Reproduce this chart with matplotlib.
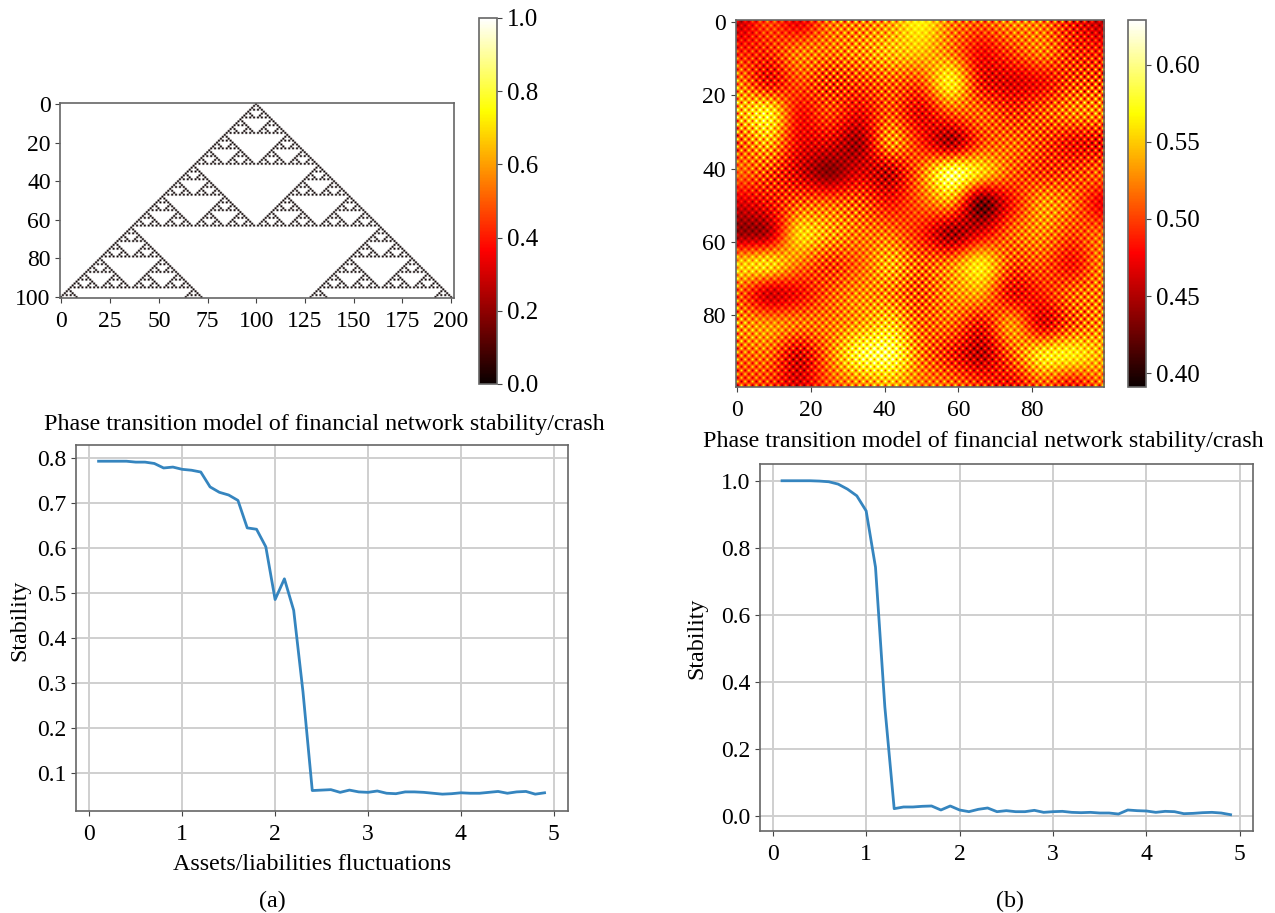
import matplotlib
matplotlib.use("Agg")
import matplotlib.pyplot as plt
import numpy as np

W, H = 1275, 913

# rule 90 automaton shown top left
ca_rows = 101
ca_cols = 202
ca_start = 100

# stability curves
x_vals = [round(0.1 * i, 1) for i in range(1, 50)]
stab_a = [0.792, 0.792, 0.792, 0.792, 0.790, 0.790, 0.787, 0.777, 0.779, 0.774,
          0.772, 0.768, 0.735, 0.723, 0.717, 0.705, 0.644, 0.641, 0.602, 0.485,
          0.531, 0.461, 0.280, 0.061, 0.062, 0.063, 0.057, 0.062, 0.058, 0.057,
          0.060, 0.055, 0.054, 0.058, 0.058, 0.057, 0.055, 0.053, 0.054, 0.056,
          0.055, 0.055, 0.057, 0.059, 0.055, 0.058, 0.059, 0.053, 0.056]
stab_b = [1.000, 1.000, 1.000, 1.000, 0.999, 0.997, 0.990, 0.975, 0.955, 0.910,
          0.742, 0.325, 0.021, 0.026, 0.026, 0.028, 0.029, 0.017, 0.029, 0.017,
          0.012, 0.019, 0.023, 0.012, 0.015, 0.012, 0.012, 0.016, 0.010, 0.012,
          0.013, 0.010, 0.009, 0.010, 0.008, 0.008, 0.005, 0.017, 0.015, 0.014,
          0.010, 0.013, 0.012, 0.006, 0.007, 0.009, 0.010, 0.008, 0.003]

# heatmap: local level and strength of the checker pattern, estimated every ~8 cells
heat_level = [
    [.45, .51, .46, .52, .52, .53, .575, .52, .51, .53, .52, .48, .45],
    [.49, .49, .53, .52, .53, .55, .55, .52, .47, .50, .53, .49, .49],
    [.53, .46, .51, .49, .50, .51, .50, .59, .47, .46, .47, .50, .50],
    [.54, .59, .47, .51, .47, .51, .46, .51, .52, .49, .51, .53, .53],
    [.50, .55, .47, .47, .43, .55, .49, .42, .50, .52, .50, .47, .47],
    [.52, .50, .46, .42, .47, .44, .52, .62, .57, .51, .49, .50, .52],
    [.46, .48, .51, .52, .51, .48, .51, .54, .39, .48, .54, .52, .46],
    [.43, .43, .57, .54, .52, .52, .49, .42, .47, .52, .53, .50, .52],
    [.56, .58, .52, .49, .51, .55, .51, .53, .58, .50, .51, .47, .53],
    [.51, .44, .47, .51, .53, .52, .50, .53, .54, .46, .49, .52, .52],
    [.53, .54, .53, .52, .53, .56, .51, .52, .47, .55, .45, .50, .53],
    [.51, .52, .45, .52, .59, .60, .52, .48, .44, .51, .58, .58, .54],
    [.50, .50, .46, .51, .52, .54, .52, .52, .50, .47, .51, .47, .52],
]
heat_amp = [
    [.01, .02, .01, .03, .04, .03, .005, .03, .03, .03, .03, .04, .01],
    [.02, .03, .03, .03, .04, .03, .015, .03, .015, .03, .03, .04, .03],
    [.03, .04, .02, .06, .04, .04, .03, .02, .04, .02, .02, .05, .06],
    [.04, .035, .015, .03, .025, .035, .03, .03, .03, .04, .04, .04, .04],
    [.04, .04, .02, .03, .02, .045, .02, .03, .03, .03, .04, .03, .05],
    [.01, .05, .03, .005, .02, .04, .03, .04, .02, .03, .035, .04, .03],
    [.01, .03, .04, .03, .05, .02, .02, .03, .025, .02, .03, .03, .01],
    [.01, .015, .015, .04, .03, .03, .02, .03, .02, .03, .03, .03, .025],
    [.02, .03, .02, .04, .02, .04, .045, .03, .015, .04, .03, .02, .03],
    [.03, .015, .02, .03, .03, .04, .05, .03, .02, .035, .02, .04, .04],
    [.04, .02, .03, .03, .03, .04, .04, .03, .04, .02, .03, .05, .04],
    [.03, .03, .04, .03, .04, .04, .04, .04, .03, .04, .03, .015, .03],
    [.03, .03, .02, .02, .03, .03, .02, .03, .03, .03, .03, .03, .03],
]
amp_gain = 2.0

title_txt = "Phase transition model of financial network stability/crash"
xlabel_txt = "Assets/liabilities fluctuations"
ylabel_txt = "Stability"

plt.rcParams["font.family"] = ["Liberation Serif", "DejaVu Serif"]
plt.rcParams["font.size"] = 17
plt.rcParams["axes.edgecolor"] = "#666666"
plt.rcParams["axes.linewidth"] = 1.2
plt.rcParams["xtick.color"] = "#444444"
plt.rcParams["ytick.color"] = "#444444"
plt.rcParams["xtick.labelcolor"] = "black"
plt.rcParams["ytick.labelcolor"] = "black"
plt.rcParams["xtick.major.pad"] = 6


def px_axes(fig, left, top, right, bottom):
    return fig.add_axes([left / W, 1 - bottom / H, (right - left) / W, (bottom - top) / H])


def px_text(fig, x, y, s, **kw):
    fig.text(x / W, 1 - y / H, s, ha="center", va="center", **kw)


def rule90(rows, cols, start):
    g = np.ones((rows, cols))
    state = np.zeros(cols, dtype=int)
    state[start] = 1
    for i in range(rows):
        g[i][state == 1] = 0
        state = np.roll(state, 1) ^ np.roll(state, -1)
    return g


def to_cells(grid, n=100):
    # coarse estimate -> one value per cell, softened a bit
    grid = np.array(grid)
    pos = np.linspace(0, n - 1, grid.shape[0])
    cells = np.arange(n)
    out = np.array([np.interp(cells, pos, r) for r in grid])
    out = np.array([np.interp(cells, pos, c) for c in out.T]).T
    k = np.ones(5) / 5
    out = np.array([np.convolve(np.pad(r, 2, mode="edge"), k, mode="valid") for r in out])
    out = np.array([np.convolve(np.pad(c, 2, mode="edge"), k, mode="valid") for c in out.T]).T
    return out


def curve_axes(ax, y, xlim, ylim, yticks):
    ax.plot(x_vals, y, color="#3585bf", lw=2)
    ax.set_xlim(xlim)
    ax.set_ylim(ylim)
    ax.set_xticks([0, 1, 2, 3, 4, 5])
    ax.set_yticks(yticks)
    ax.grid(color="#cfcfcf", lw=1.4)
    ax.set_axisbelow(True)


fig = plt.figure(figsize=(W / 100, H / 100), dpi=100)

# top left
ax1 = px_axes(fig, 60.5, 103, 454, 298)
im1 = ax1.imshow(rule90(ca_rows, ca_cols, ca_start), cmap="hot", vmin=0, vmax=1, aspect="auto")
ax1.set_xticks(range(0, 201, 25))
ax1.set_yticks(range(0, 101, 20))
cax1 = px_axes(fig, 479, 18, 497, 384)
cb1 = fig.colorbar(im1, cax=cax1, ticks=[0, 0.2, 0.4, 0.6, 0.8, 1.0])
cb1.ax.tick_params(labelsize=18)

# top right
level = to_cells(heat_level)
amp = to_cells(heat_amp) * amp_gain
ii, jj = np.indices(level.shape)
heat = level + amp * np.where((ii + jj) % 2 == 0, 1, -1)
ax2 = px_axes(fig, 735.5, 20, 1104, 387)
im2 = ax2.imshow(heat, cmap="hot", vmin=0.391, vmax=0.629, aspect="auto", interpolation="bilinear")
ax2.set_xticks(range(0, 81, 20))
ax2.set_yticks(range(0, 81, 20))
cax2 = px_axes(fig, 1128, 20, 1146, 387)
cb2 = fig.colorbar(im2, cax=cax2, ticks=[0.40, 0.45, 0.50, 0.55, 0.60], format="%.2f")
cb2.ax.tick_params(labelsize=18)

# bottom left
ax3 = px_axes(fig, 76, 445, 567.5, 811)
curve_axes(ax3, stab_a, (-0.143, 5.147), (0.0156, 0.828), [0.1 * i for i in range(1, 9)])

# bottom right
ax4 = px_axes(fig, 760, 464, 1253, 831)
curve_axes(ax4, stab_b, (-0.136, 5.14), (-0.0457, 1.05), [0, 0.2, 0.4, 0.6, 0.8, 1.0])

px_text(fig, 324, 424, title_txt, fontsize=17.3)
px_text(fig, 983, 441, title_txt, fontsize=17.3)
px_text(fig, 312, 864, xlabel_txt, fontsize=17.3)
px_text(fig, 20, 620, ylabel_txt, rotation=90, fontsize=17.3)
px_text(fig, 697, 638, ylabel_txt, rotation=90, fontsize=17.3)
px_text(fig, 272, 901, "(a)", fontsize=17.3)
px_text(fig, 1010, 901, "(b)", fontsize=17.3)

fig.savefig("out.png", dpi=100)
plt.close(fig)
